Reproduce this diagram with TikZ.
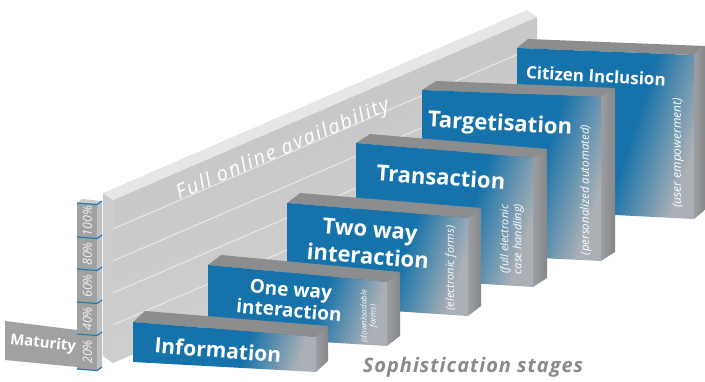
\documentclass[tikz,border=0pt]{standalone}
\usepackage{fontspec}
\setmainfont{Open Sans}
\usetikzlibrary{calc}

\definecolor{stageblue}{RGB}{22,114,170}
\definecolor{stagegrey}{RGB}{170,176,182}
\definecolor{topgrey}{RGB}{140,141,143}
\definecolor{sidegrey}{RGB}{156,158,161}
\definecolor{wallface}{RGB}{196,196,197}
\definecolor{walllight}{RGB}{210,210,211}
\definecolor{walltop}{RGB}{230,230,231}
\definecolor{wallend}{RGB}{205,205,206}
\definecolor{wallline}{RGB}{234,234,235}
\definecolor{colgrey}{RGB}{160,161,163}
\definecolor{colside}{RGB}{190,191,193}
\definecolor{colline}{RGB}{40,120,178}
\definecolor{captiongrey}{RGB}{138,138,140}

% front faces: solid blue on the left, fading to grey towards the right edge
\pgfdeclarehorizontalshading{facefade}{100bp}{color(0bp)=(stageblue); color(25bp)=(stageblue); color(57bp)=(stageblue); color(75bp)=(stagegrey); color(100bp)=(stagegrey)}

\tikzset{
  topface/.style={fill=topgrey},
  sideface/.style={left color=sidegrey, right color=sidegrey!85!black},
  frontface/.style={shading=facefade, shading angle=-18},
  stagelabel/.style={text=white, inner sep=0pt, align=center},
  sidenote/.style={text=white, inner sep=0pt, align=center, rotate=90,
    font=\itshape},
  pctlabel/.style={text=white!95!black, inner sep=0pt, rotate=90,
    font=\itshape\fontsize{12.5}{12.5}\selectfont},
}

% one stage block: name, left x, right x, top-left y, top-right y,
% bottom-right y, bottom-left y, depth vector
\newcommand{\stageblock}[8]{%
  \coordinate (#1-tl) at (#2,#4);
  \coordinate (#1-tr) at (#3,#5);
  \coordinate (#1-br) at (#3,#6);
  \coordinate (#1-bl) at (#2,#7);
  \coordinate (#1-d) at #8;
  \fill[topface] (#1-tl) -- (#1-tr) -- ($(#1-tr)+(#1-d)$) -- ($(#1-tl)+(#1-d)$) -- cycle;
  \shade[sideface] (#1-tr) -- (#1-br) -- ($(#1-br)+(#1-d)$) -- ($(#1-tr)+(#1-d)$) -- cycle;
  \shade[frontface] (#1-tl) -- (#1-tr) -- (#1-br) -- (#1-bl) -- cycle;
}

\begin{document}
\begin{tikzpicture}[x=1pt,y=-1pt]
\useasboundingbox (0,0) rectangle (705,381);
\fill[white] (0,0) rectangle (705,381);

% ---- back wall (full availability) ----
\coordinate (wall-btl) at (103,193);
\coordinate (wall-btr) at (527,10);
\coordinate (wall-ftl) at (113,200);
\coordinate (wall-ftr) at (537,17);
\coordinate (wall-fbr) at (537,180);
\coordinate (wall-fbl) at (113,363);
\coordinate (wall-ebl) at (103,356);
\shade[left color=wallface, right color=walllight, shading angle=20]
  (wall-ftl) -- (wall-ftr) -- (wall-fbr) -- (wall-fbl) -- cycle;
\fill[wallend] (wall-btl) -- (wall-ftl) -- (wall-fbl) -- (wall-ebl) -- cycle;
\fill[walltop] (wall-btl) -- (wall-btr) -- (wall-ftr) -- (wall-ftl) -- cycle;
\foreach \ly in {229,261,293,325} {
  \draw[wallline, line width=0.9pt] (113,\ly) -- (537,\ly-183);
}
\node[text=white, rotate=23, inner sep=0pt,
  font=\itshape\fontsize{20}{20}\selectfont\addfontfeature{LetterSpace=9}]
  (wall-txt) at (283,150) {Full online availability};

% ---- maturity scale ----
\fill[colgrey] (5,321) -- (77,330) -- (77,367) -- (5,360) -- cycle;
\node[text=white, rotate=-6, inner sep=0pt,
  font=\bfseries\fontsize{15}{15}\selectfont]
  (maturity) at (43,344) {Maturity};
\fill[colside!80!white] (77,203) -- (97,205) -- (102,201) -- (82,199) -- cycle;
\fill[colgrey] (77,203) -- (97,205) -- (97,371) -- (77,369) -- cycle;
\fill[colside] (97,205) -- (102,201) -- (102,367) -- (97,371) -- cycle;
\foreach \ly in {203,237,269,302,334,369} {
  \draw[colline, line width=1.2pt] (77,\ly) -- (97,\ly+1.5) -- (102,\ly-2);
}
\node[pctlabel] (p100) at (87.5,221) {100\%};
\node[pctlabel] (p80)  at (87.5,254) {80\%};
\node[pctlabel] (p60)  at (87.5,286) {60\%};
\node[pctlabel] (p40)  at (87.5,319) {40\%};
\node[pctlabel] (p20)  at (87.5,352) {20\%};

% ---- stage blocks, back to front ----
\stageblock{cit}{517}{694}{48}{55}{219}{210}{(11,-9)}
\node[stagelabel, rotate=-3, font=\bfseries\fontsize{17}{17}\selectfont]
  (cit-txt) at (596,76) {Citizen Inclusion};
\node[sidenote, font=\itshape\fontsize{12}{12}\selectfont]
  (cit-note) at (678,153) {(user empowerment)};

\stageblock{tgt}{422}{601}{90}{97}{261}{252}{(14,-9)}
\node[stagelabel, rotate=-3, font=\bfseries\fontsize{22}{22}\selectfont]
  (tgt-txt) at (500,125) {Targetisation};
\node[sidenote, font=\itshape\fontsize{11.5}{11.5}\selectfont]
  (tgt-note) at (586,190) {(personalized automated)};

\stageblock{trn}{356}{533}{143}{158}{287}{276}{(14,-9)}
\node[stagelabel, rotate=-4, font=\bfseries\fontsize{22}{22}\selectfont]
  (trn-txt) at (441,177) {Transaction};
\node[sidenote, font=\itshape\fontsize{11}{13}\selectfont]
  (trn-note) at (512,239) {(full electronic\\case handling)};

\stageblock{two}{287}{468}{203}{218}{316}{304}{(13,-10)}
\node[stagelabel, rotate=-4.5, font=\bfseries\fontsize{22}{27}\selectfont]
  (two-txt) at (369,243) {Two way\\interaction};
\node[sidenote, font=\itshape\fontsize{11}{11}\selectfont]
  (two-note) at (451,268) {(electronic forms)};

\stageblock{one}{208}{387}{265}{282}{346}{335}{(13,-10)}
\node[stagelabel, rotate=-5, font=\bfseries\fontsize{19}{21}\selectfont]
  (one-txt) at (290,300) {One way\\interaction};
\node[sidenote, font=\itshape\fontsize{8}{9}\selectfont]
  (one-note) at (369,316) {(downloadable\\forms)};

\stageblock{inf}{133}{316}{322}{337}{372}{362}{(12,-11)}
\node[stagelabel, rotate=-4.5, font=\bfseries\fontsize{21}{21}\selectfont]
  (inf-txt) at (218,350) {Information};

% ---- caption ----
\node[text=captiongrey, inner sep=0pt,
  font=\bfseries\itshape\fontsize{20}{20}\selectfont\addfontfeature{LetterSpace=5}]
  (stages) at (473,367) {Sophistication stages};
\end{tikzpicture}
\end{document}
